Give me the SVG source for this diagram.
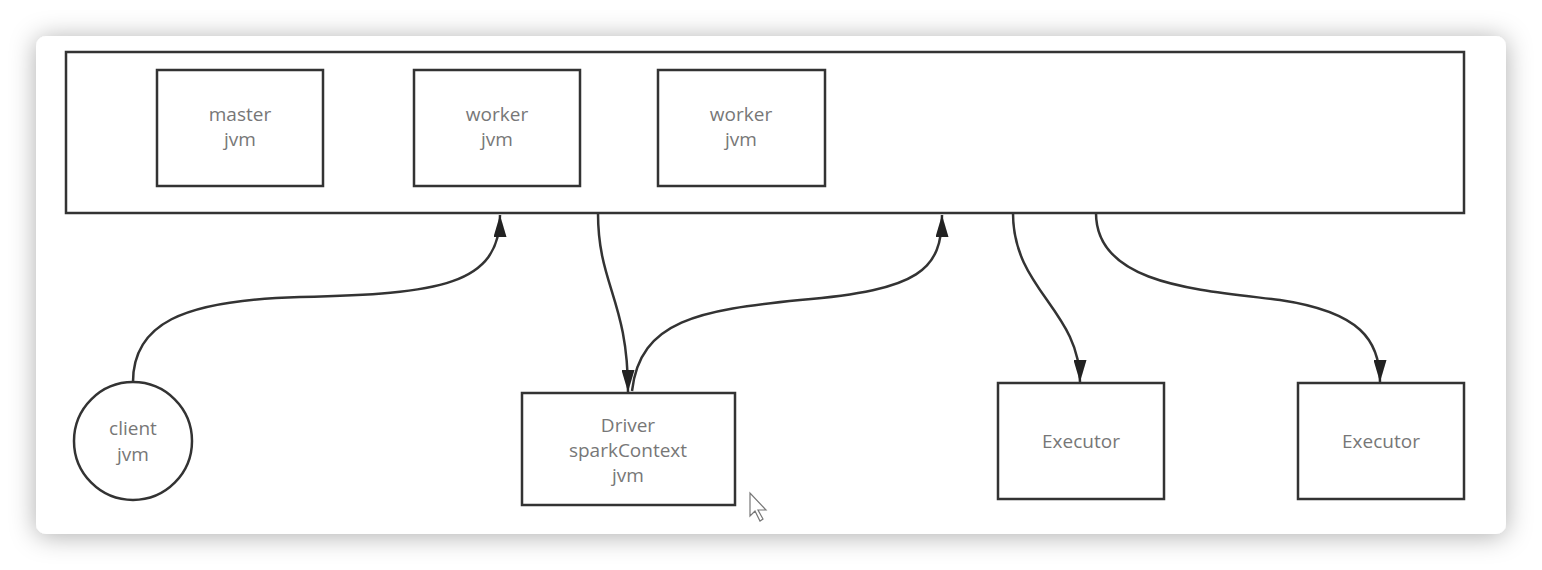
<svg xmlns="http://www.w3.org/2000/svg" width="1542" height="570" viewBox="0 0 1542 570">
<defs>
<filter id="sh" x="-5%" y="-10%" width="110%" height="125%">
<feDropShadow dx="0" dy="2" stdDeviation="13" flood-color="#000" flood-opacity="0.32"/>
</filter>
<marker id="ah" markerWidth="22" markerHeight="13" refX="22" refY="6.5" orient="auto" markerUnits="userSpaceOnUse" viewBox="0 0 22 13">
<path d="M0,0 L22,6.5 L0,13 Z" fill="#222"/>
</marker>
</defs>
<style>
.box{fill:#fff;stroke:#333;stroke-width:2.5}
.t{font-family:"Open Sans","Noto Sans",sans-serif;font-size:19px;fill:#777;text-anchor:middle}
.c{fill:none;stroke:#333;stroke-width:2.5}
</style>
<rect width="1542" height="570" fill="#fff"/>
<rect x="36" y="36" width="1470" height="498" rx="10" fill="#fff" filter="url(#sh)"/>
<g id="cluster"><rect class="box" x="66" y="52" width="1398" height="161"/></g>
<g id="master"><rect class="box" x="157" y="70" width="166" height="116"/><text class="t" x="240" y="121">master</text><text class="t" x="240" y="146">jvm</text></g>
<g id="worker1"><rect class="box" x="414" y="70" width="166" height="116"/><text class="t" x="497" y="121">worker</text><text class="t" x="497" y="146">jvm</text></g>
<g id="worker2"><rect class="box" x="658" y="70" width="167" height="116"/><text class="t" x="741" y="121">worker</text><text class="t" x="741" y="146">jvm</text></g>
<g id="client"><circle class="box" cx="133" cy="441" r="59"/><text class="t" x="133" y="435">client</text><text class="t" x="133" y="461">jvm</text></g>
<g id="driver"><rect class="box" x="522" y="393" width="213" height="112"/><text class="t" x="628" y="432">Driver</text><text class="t" x="628" y="457">sparkContext</text><text class="t" x="628" y="482">jvm</text></g>
<g id="executor1"><rect class="box" x="998" y="383" width="166" height="116"/><text class="t" x="1081" y="448">Executor</text></g>
<g id="executor2"><rect class="box" x="1298" y="383" width="166" height="116"/><text class="t" x="1381" y="448">Executor</text></g>
<g id="connectors">
<path class="c" marker-end="url(#ah)" d="M133,382 C133,325 180,300 300,297 C440,294 500,285 500,215"/>
<path class="c" marker-end="url(#ah)" d="M598,213 C598,285 628,300 628,392"/>
<path class="c" marker-end="url(#ah)" d="M632,391 C640,320 700,310 800,300 C920,290 942,270 942,215"/>
<path class="c" marker-end="url(#ah)" d="M1013,213 C1013,290 1080,310 1080,382"/>
<path class="c" marker-end="url(#ah)" d="M1096,213 C1096,285 1200,290 1280,300 C1360,312 1380,340 1380,382"/>
</g>
<path d="M750,493 L750,516 L755,511 L760,521 L763,519 L758,510 L766,510 Z" fill="#fff" stroke="#777" stroke-width="1.2"/>
</svg>
